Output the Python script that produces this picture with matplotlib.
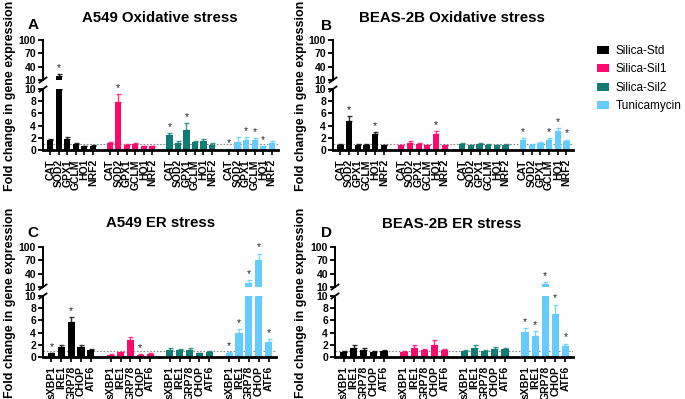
import matplotlib
matplotlib.use("Agg")
import matplotlib.pyplot as plt
from matplotlib.patches import Patch
from matplotlib.lines import Line2D
import numpy as np

plt.rcParams['font.family'] = ['Liberation Sans', 'DejaVu Sans']

# ---------------- data ----------------
treatments = ['Silica-Std', 'Silica-Sil1', 'Silica-Sil2', 'Tunicamycin']
colors = ['#000000', '#FF0A6C', '#127C74', '#66CCFF']
ox_genes = ['CAT', 'SOD2', 'GPX1', 'GCLM', 'HO1', 'NRF2']
er_genes = ['sXBP1', 'IRE1', 'GRP78', 'CHOP', 'ATF6']

a_means = [[1.6, 20, 1.8, 1.0, 0.6, 0.7],
           [1.1, 7.9, 0.9, 1.0, 0.6, 0.6],
           [2.4, 1.2, 3.2, 1.3, 1.5, 0.9],
           [0.15, 1.3, 1.7, 1.6, 0.6, 1.2]]
a_errs = [[0.2, 3, 0.3, 0.1, 0.05, 0.1],
          [0.2, 1.2, 0.1, 0.1, 0.05, 0.05],
          [0.4, 0.2, 1.2, 0.2, 0.3, 0.2],
          [0.05, 0.8, 0.4, 0.3, 0.1, 0.2]]
a_stars = [[0, 1, 0, 0, 0, 0], [0, 1, 0, 0, 0, 0], [1, 0, 1, 0, 0, 0], [1, 0, 1, 1, 1, 0]]

b_means = [[0.9, 4.8, 0.9, 0.9, 2.6, 0.8],
           [0.8, 1.2, 1.0, 0.8, 2.6, 0.8],
           [1.0, 0.8, 1.0, 0.9, 0.8, 0.9],
           [1.6, 0.9, 1.1, 1.6, 3.1, 1.4]]
b_errs = [[0.1, 0.8, 0.1, 0.1, 0.4, 0.1],
          [0.1, 0.2, 0.15, 0.1, 0.5, 0.1],
          [0.1, 0.1, 0.15, 0.1, 0.1, 0.1],
          [0.3, 0.1, 0.2, 0.3, 0.5, 0.3]]
b_stars = [[0, 1, 0, 0, 1, 0], [0, 0, 0, 0, 1, 0], [0, 0, 0, 0, 0, 0], [1, 0, 0, 1, 1, 1]]

c_means = [[0.6, 1.6, 5.8, 1.7, 1.1],
           [0.4, 0.8, 2.8, 0.4, 0.5],
           [1.2, 1.1, 1.1, 0.6, 0.8],
           [0.6, 3.9, 19, 70, 2.5]]
c_errs = [[0.1, 0.4, 0.8, 0.3, 0.2],
          [0.05, 0.1, 0.4, 0.1, 0.1],
          [0.2, 0.2, 0.3, 0.1, 0.15],
          [0.15, 0.7, 6, 15, 0.5]]
c_stars = [[1, 0, 1, 0, 0], [0, 0, 0, 1, 0], [0, 0, 0, 0, 0], [1, 1, 1, 1, 1]]

d_means = [[0.9, 1.5, 1.2, 0.9, 1.0],
           [0.9, 1.5, 1.2, 1.9, 1.1],
           [1.0, 1.5, 1.0, 1.3, 1.3],
           [4.1, 3.4, 16, 7.1, 1.8]]
d_errs = [[0.1, 0.4, 0.3, 0.1, 0.1],
          [0.1, 0.5, 0.1, 0.9, 0.15],
          [0.1, 0.5, 0.1, 0.3, 0.2],
          [0.7, 0.9, 5, 1.5, 0.4]]
d_stars = [[0, 0, 0, 0, 0], [0, 0, 0, 0, 0], [0, 0, 0, 0, 0], [1, 1, 1, 1, 1]]

upper_ticks = [10, 40, 70, 100]
lower_ticks = [0, 2, 4, 6, 8, 10]
BREAK = 10

# ---------------- layout helpers ----------------
W, H = 685, 399
fig = plt.figure(figsize=(W / 100, H / 100), dpi=100)


def rect(x0, x1, ytop, ybot):
    return [x0 / W, 1 - ybot / H, (x1 - x0) / W, (ybot - ytop) / H]


TICKFS = 7.5
BOLD = 'bold'


def draw_bars(ax, xs, vals, errs, color, keep):
    xs = np.asarray(xs)[keep]
    vals = np.asarray(vals, dtype=float)[keep]
    errs = np.asarray(errs, dtype=float)[keep]
    if len(xs) == 0:
        return
    ax.bar(xs, vals, width=0.72, color=color, zorder=2)
    ax.errorbar(xs, vals, yerr=[np.zeros(len(xs)), errs], fmt='none',
                ecolor=color, elinewidth=1.0, capsize=1.8, capthick=1.0,
                zorder=2, alpha=0.8)


def panel(x0, x1, y_top, y_break_hi, y_break_lo, y_bot, genes, means, errs, stars,
          title, letter, title_xy, letter_xy, ylab_x):
    ax_t = fig.add_axes(rect(x0, x1, y_top, y_break_hi))
    ax_b = fig.add_axes(rect(x0, x1, y_break_lo, y_bot))
    n = len(genes)
    xs_all, labels = [], []
    for g in range(4):
        xs = np.arange(n) + g * (n + 1)
        xs_all.extend(xs)
        labels.extend(genes)
        m = np.asarray(means[g], dtype=float)
        e = np.asarray(errs[g], dtype=float)
        draw_bars(ax_b, xs, m, e, colors[g], m + e <= BREAK)
        draw_bars(ax_b, xs, np.minimum(m, BREAK), np.zeros(n), colors[g], m + e > BREAK)
        draw_bars(ax_t, xs, m, e, colors[g], m > BREAK)
        for i in range(n):
            if stars[g][i]:
                top = m[i] + e[i]
                ax = ax_t if top > BREAK else ax_b
                ax.annotate('*', (xs[i], top), xytext=(0, 0.8), textcoords='offset points',
                            ha='center', va='bottom', fontsize=7.5, color='#222222',
                            annotation_clip=False)
    xmax = xs_all[-1]
    for ax in (ax_t, ax_b):
        ax.set_xlim(-0.85, xmax + 0.75)
        for s in ('top', 'right'):
            ax.spines[s].set_visible(False)
        ax.spines['left'].set_linewidth(1.4)
        ax.tick_params(axis='y', length=3.5, width=1.3, pad=1.5, labelsize=TICKFS)
    ax_t.set_ylim(10, 100)
    ax_t.set_yticks(upper_ticks)
    ax_t.spines['bottom'].set_visible(False)
    ax_t.set_xticks([])
    ax_b.set_ylim(0, 10)
    ax_b.set_yticks(lower_ticks)
    ax_b.spines['bottom'].set_linewidth(2.0)
    ax_b.axhline(1, ls=(0, (1.5, 1.5)), color='#888888', lw=0.8, zorder=1)
    ax_b.set_xticks(xs_all)
    ax_b.set_xticklabels(labels, rotation=90, fontsize=TICKFS, fontweight=BOLD)
    ax_b.tick_params(axis='x', length=3.5, width=1.2, pad=3)
    for ax in (ax_t, ax_b):
        for lab in ax.get_yticklabels():
            lab.set_fontweight(BOLD)
    # break marks
    for yy in (y_break_hi, y_break_lo):
        fig.add_artist(Line2D([(x0 - 3.5) / W, (x0 + 3.5) / W],
                              [1 - (yy + 2.5) / H, 1 - (yy - 2.5) / H],
                              color='black', lw=1.3, transform=fig.transFigure))
    fig.text(title_xy[0] / W, 1 - title_xy[1] / H, title, ha='center', va='center',
             fontsize=10.8, fontweight=BOLD)
    fig.text(letter_xy[0] / W, 1 - letter_xy[1] / H, letter, ha='center', va='center',
             fontsize=11, fontweight=BOLD)
    fig.text(ylab_x / W, 1 - (y_top - 40 + 96) / H,
             'Fold change in gene expression', rotation=90, ha='center', va='center',
             fontsize=9, fontweight=BOLD)


panel(43, 278, 40, 80, 89, 150, ox_genes, a_means, a_errs, a_stars,
      'A549 Oxidative stress', 'A', (160, 18), (33, 25), 10)
panel(333, 573, 40, 80, 89, 150, ox_genes, b_means, b_errs, b_stars,
      'BEAS-2B Oxidative stress', 'B', (452, 18), (326, 26), 301)
panel(43, 276, 247, 287, 296, 357, er_genes, c_means, c_errs, c_stars,
      'A549 ER stress', 'C', (161, 223), (33, 233), 10)
panel(335, 573, 247, 287, 296, 357, er_genes, d_means, d_errs, d_stars,
      'BEAS-2B ER stress', 'D', (452, 224), (327, 233), 301)

handles = [Patch(facecolor=c, edgecolor='none') for c in colors]
fig.legend(handles, treatments, loc='upper left', bbox_to_anchor=(597 / W, 1 - 45 / H),
           frameon=False, fontsize=8.5, handlelength=1.0, handleheight=0.65,
           labelspacing=0.55, handletextpad=0.6, borderaxespad=0, borderpad=0)

fig.savefig('out.png', dpi=100)
